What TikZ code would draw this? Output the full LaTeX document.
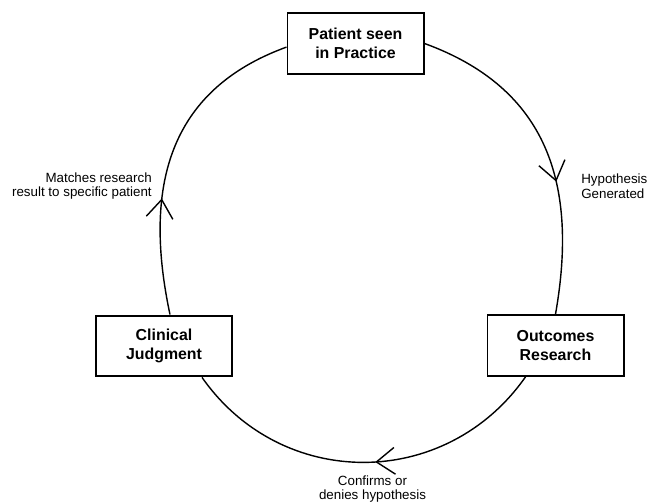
\documentclass[tikz,border=0pt]{standalone}
\usepackage{fontspec}
\setmainfont{Liberation Sans}
\usetikzlibrary{decorations.markings,arrows.meta}

\begin{document}
\begin{tikzpicture}
[
x=0.025cm,y=0.025cm,
amark/.style={
            decoration={
                        markings,
                        mark=at position {#1} with {
                                    \arrow{Straight Barb[length=13pt,width=19pt,line width=1pt]}
                        }
            },
            postaction={decorate}
},
stage/.style={draw,line width=1.4pt,fill=white,minimum width=3.4cm,minimum height=1.52cm,
              align=center,font=\fontsize{11.3}{13.5}\selectfont\bfseries},
note/.style={font=\fontsize{9.5}{10.5}\selectfont},
]
\useasboundingbox (0,0) rectangle (649,504);

%Place the nodes
\node[stage] (practice) at (355.5,460.5) {Patient seen\\in Practice};
\node[stage] (research) at (555.5,158.5) {Outcomes\\Research};
\node[stage] (judgment) at (164,158) {Clinical\\Judgment};
\node[note,anchor=west,align=left,inner xsep=0pt] (hyp) at (581,318) {Hypothesis\\Generated};
\node[note,anchor=east,align=right,inner xsep=0pt] (match) at (152,318) {Matches research\\result to specific patient};
\node[note,align=center] (confirm) at (372.5,15) {Confirms or\\denies hypothesis};

%Draw the connections
\draw[line width=1pt,amark=0.6] (practice.east) to[out=-20,in=80,looseness=1.12] (research.north);
\draw[line width=1pt,amark=0.47] ([xshift=-0.75cm]research.south) to[out=-125,in=-55,looseness=1.1] ([xshift=0.95cm]judgment.south);
\draw[line width=1pt,amark=0.36] ([xshift=0.15cm]judgment.north) to[out=102,in=-160,looseness=1.12] ([yshift=-0.09cm]practice.west);
\end{tikzpicture}
\end{document}
